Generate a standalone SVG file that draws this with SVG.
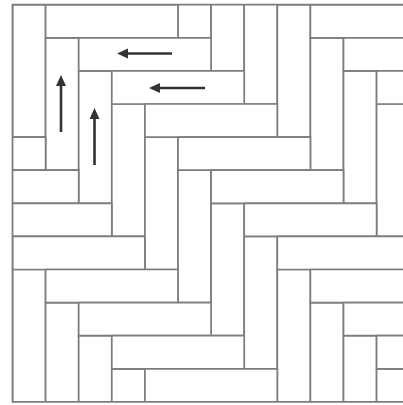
<svg xmlns="http://www.w3.org/2000/svg" width="403" height="405" viewBox="0 0 403 405">
<style>
.b{fill:#fff;stroke:#7d7d7d;stroke-width:1.7;vector-effect:non-scaling-stroke}
.edge{fill:none;stroke:#7d7d7d;stroke-width:1.8}
.arr{fill:none;stroke:#333;stroke-width:2.6;marker-end:url(#ah)}
</style>
<defs>
<marker id="ah" markerUnits="userSpaceOnUse" markerWidth="14" markerHeight="12" viewBox="0 0 14 12" refX="4" refY="5" orient="auto">
<path d="M0,0 L11,5 L0,10 z" fill="#333"/>
</marker>
<clipPath id="cp"><rect x="0" y="0" width="12" height="12"/></clipPath>
</defs>
<rect width="403" height="405" fill="#fff"/>
<g id="floor" transform="translate(12.5 4.7) scale(33.1)" clip-path="url(#cp)">
<g id="vertical">
<rect class="b" x="0" y="0" width="1" height="4"/>
<rect class="b" x="0" y="8" width="1" height="4"/>
<rect class="b" x="1" y="1" width="1" height="4"/>
<rect class="b" x="1" y="9" width="1" height="4"/>
<rect class="b" x="2" y="2" width="1" height="4"/>
<rect class="b" x="2" y="10" width="1" height="4"/>
<rect class="b" x="3" y="3" width="1" height="4"/>
<rect class="b" x="3" y="11" width="1" height="4"/>
<rect class="b" x="4" y="4" width="1" height="4"/>
<rect class="b" x="5" y="5" width="1" height="4"/>
<rect class="b" x="5" y="-3" width="1" height="4"/>
<rect class="b" x="6" y="6" width="1" height="4"/>
<rect class="b" x="6" y="-2" width="1" height="4"/>
<rect class="b" x="7" y="7" width="1" height="4"/>
<rect class="b" x="7" y="-1" width="1" height="4"/>
<rect class="b" x="8" y="8" width="1" height="4"/>
<rect class="b" x="8" y="0" width="1" height="4"/>
<rect class="b" x="9" y="9" width="1" height="4"/>
<rect class="b" x="9" y="1" width="1" height="4"/>
<rect class="b" x="10" y="10" width="1" height="4"/>
<rect class="b" x="10" y="2" width="1" height="4"/>
<rect class="b" x="11" y="11" width="1" height="4"/>
<rect class="b" x="11" y="3" width="1" height="4"/>
</g>
<g id="horizontal">
<rect class="b" x="1" y="0" width="4" height="1"/>
<rect class="b" x="9" y="0" width="4" height="1"/>
<rect class="b" x="2" y="1" width="4" height="1"/>
<rect class="b" x="10" y="1" width="4" height="1"/>
<rect class="b" x="3" y="2" width="4" height="1"/>
<rect class="b" x="11" y="2" width="4" height="1"/>
<rect class="b" x="4" y="3" width="4" height="1"/>
<rect class="b" x="5" y="4" width="4" height="1"/>
<rect class="b" x="-3" y="4" width="4" height="1"/>
<rect class="b" x="6" y="5" width="4" height="1"/>
<rect class="b" x="-2" y="5" width="4" height="1"/>
<rect class="b" x="7" y="6" width="4" height="1"/>
<rect class="b" x="-1" y="6" width="4" height="1"/>
<rect class="b" x="8" y="7" width="4" height="1"/>
<rect class="b" x="0" y="7" width="4" height="1"/>
<rect class="b" x="9" y="8" width="4" height="1"/>
<rect class="b" x="1" y="8" width="4" height="1"/>
<rect class="b" x="10" y="9" width="4" height="1"/>
<rect class="b" x="2" y="9" width="4" height="1"/>
<rect class="b" x="11" y="10" width="4" height="1"/>
<rect class="b" x="3" y="10" width="4" height="1"/>
<rect class="b" x="4" y="11" width="4" height="1"/>
</g>
</g>
<path id="border" class="edge" d="M403,4.7 H12.5 V401.9 H403"/>
<g id="arrows">
<line class="arr" x1="172" y1="53.5" x2="124" y2="53.5"/>
<line class="arr" x1="205" y1="88" x2="156" y2="88"/>
<line class="arr" x1="61" y1="132" x2="61" y2="82"/>
<line class="arr" x1="94.5" y1="165" x2="94.5" y2="115"/>
</g>
</svg>
